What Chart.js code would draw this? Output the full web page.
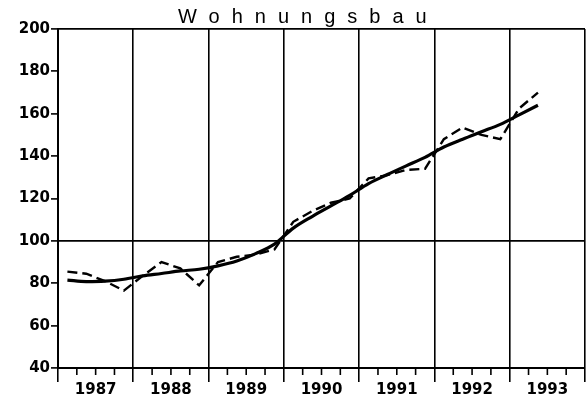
<!DOCTYPE html>
<html>
<head>
<meta charset="utf-8">
<script src="https://cdn.jsdelivr.net/npm/chart.js@4.4.1/dist/chart.umd.min.js"></script>
<style>
    html, body { margin: 0; padding: 0; background: #fff; }
    #wrap { position: relative; width: 588px; height: 401px; }
    #titulo {
        position: absolute; left: 178px; top: 6px;
        font-family: "Liberation Sans", Arial, sans-serif;
        font-size: 20px; line-height: 1; letter-spacing: 12px;
        color: #000; white-space: nowrap;
    }
</style>
</head>
<body>
<div id="wrap">
    <div id="titulo">Wohnungsbau</div>
    <canvas id="grafica" width="588" height="401"></canvas>
</div>
<script>
// Jahre auf der x-Achse
var jahre = ['1987', '1988', '1989', '1990', '1991', '1992', '1993'];
// Werte der y-Achse
var yTicks = [40, 60, 80, 100, 120, 140, 160, 180, 200];
// Quartalswerte 1987 Q1 .. 1993 Q2 (gestrichelt)
var wohnungsbau = [85.5, 84.5, 81, 76.5, 83.5, 90, 87, 79, 90, 92.5, 93.5, 96,
                   109, 114, 118, 120, 129.5, 131, 133.5, 134, 148, 153.5, 150, 148, 162.5, 170];
// Trend (durchgezogen)
var trend = [81.5, 80.8, 81, 81.9, 83.5, 84.6, 85.8, 86.6, 88.2, 90.5, 94, 98.5,
             106, 111.5, 116.5, 121.5, 127, 131.3, 135.4, 139.4, 144.3, 148, 151.5, 155, 159.5, 164];

var fuente = { family: '"DejaVu Sans", sans-serif', size: 15, weight: 'bold' };

function puntos(valores)
{
    // jedes Quartal in der Mitte seines Viertels
    return valores.map(function(v, i) { return { x: (i + 0.5) / 4, y: v }; });
}

// kurze Quartalsstriche unter der x-Achse
var quartalStriche = {
    id: 'quartalStriche',
    afterDraw: function(chart)
    {
        var ctx = chart.ctx;
        var sx = chart.scales.x;
        var y0 = chart.chartArea.bottom;
        ctx.save();
        ctx.strokeStyle = '#000';
        ctx.lineWidth = 1.6;
        for (var q = 1; q < jahre.length * 4; q++)
        {
            if (q % 4 === 0) continue;
            var px = sx.getPixelForValue(q / 4);
            ctx.beginPath();
            ctx.moveTo(px, y0);
            ctx.lineTo(px, y0 + 7);
            ctx.stroke();
        }
        ctx.restore();
    }
};

var ctx = document.getElementById('grafica').getContext('2d');
var chart = new Chart(ctx, {
    type: 'line',
    data: {
        datasets: [
            {
                label: 'Wohnungsbau',
                data: puntos(wohnungsbau),
                borderColor: '#000',
                borderWidth: 2.4,
                borderDash: [10, 5],
                pointRadius: 0,
                tension: 0,
                fill: false
            },
            {
                label: 'Trend',
                data: puntos(trend),
                borderColor: '#000',
                borderWidth: 3.2,
                pointRadius: 0,
                cubicInterpolationMode: 'monotone',
                fill: false
            }
        ]
    },
    options: {
        responsive: false,
        animation: false,
        layout: { padding: { top: 29, right: 3, left: 0, bottom: 0 } },
        plugins: {
            legend: { display: false },
            title: { display: false },
            tooltip: { enabled: false }
        },
        scales: {
            x: {
                type: 'linear',
                min: 0,
                max: jahre.length,
                afterFit: function(scale) { scale.height = 33; },
                afterBuildTicks: function(scale)
                {
                    var t = [];
                    for (var q = 0; q <= jahre.length * 4; q++) t.push({ value: q / 4 });
                    scale.ticks = t;
                },
                border: { display: true, color: '#000', width: 2 },
                grid: {
                    color: function(c) { return (c.tick && c.tick.value % 1 === 0) ? '#000' : 'rgba(0,0,0,0)'; },
                    tickColor: function(c) { return (c.tick && c.tick.value % 1 === 0) ? '#000' : 'rgba(0,0,0,0)'; },
                    lineWidth: 1.6,
                    tickLength: 14,
                    tickWidth: 1.6
                },
                ticks: {
                    autoSkip: false,
                    maxRotation: 0,
                    padding: -1,
                    color: '#000',
                    font: fuente,
                    callback: function(value)
                    {
                        if (Math.abs(value % 1 - 0.5) < 1e-6) return jahre[Math.floor(value)];
                        return '';
                    }
                }
            },
            y: {
                min: yTicks[0],
                max: yTicks[yTicks.length - 1],
                afterFit: function(scale) { scale.width = 58; },
                afterBuildTicks: function(scale)
                {
                    scale.ticks = yTicks.map(function(v) { return { value: v }; });
                },
                border: { display: true, color: '#000', width: 2 },
                grid: {
                    color: function(c) { return (c.tick && (c.tick.value === 100 || c.tick.value === 200)) ? '#000' : 'rgba(0,0,0,0)'; },
                    tickColor: '#000',
                    lineWidth: 1.8,
                    tickLength: 7,
                    tickWidth: 1.6
                },
                ticks: {
                    padding: 1,
                    color: '#000',
                    font: fuente
                }
            }
        }
    },
    plugins: [quartalStriche]
});
</script>
</body>
</html>
